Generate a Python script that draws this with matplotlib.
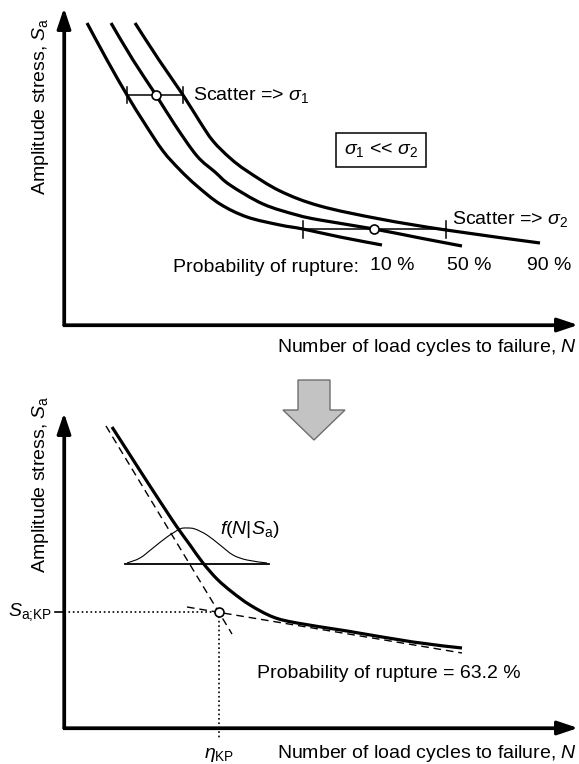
import matplotlib
matplotlib.use('Agg')
import matplotlib.pyplot as plt
from matplotlib.patches import FancyArrow, PathPatch
from matplotlib.path import Path

# Everything is placed on a canvas measured in pixels from the top-left corner
# (x to the right, y downwards).

# ---- upper diagram: S-N curves for three probabilities of rupture ----
curve_10_x = [87, 107, 127, 145, 163, 180, 197, 220, 247, 280, 303, 340, 382]
curve_10_y = [23, 60, 95, 124, 151, 170, 186, 204, 217, 225, 229, 237, 245]

curve_50_x = [111, 133, 156, 175, 197, 215, 230, 263, 297, 320, 374, 420, 462]
curve_50_y = [23, 60, 95, 125, 156, 172, 185, 204, 215, 220, 229, 238, 246]

curve_90_x = [135, 159, 183, 200, 213, 230, 247, 280, 320, 380, 446, 540]
curve_90_y = [23, 60, 95, 122, 141, 158, 171, 191, 206, 219, 230, 243]

# scatter bands (left end, median point, right end, level)
scatter1_x = [127, 156, 183]
scatter1_y = 95
scatter2_x = [303, 374, 446]
scatter2_y = 229

rupture_labels = ['10 %', '50 %', '90 %']
rupture_label_x = [370, 447, 527]

# ---- lower diagram: median curve with its two asymptotes ----
median_x = [112, 130, 148, 165, 177, 190, 203, 217, 232, 250, 273, 297, 347, 413, 462]
median_y = [427, 455, 483, 509, 527, 545, 563, 579, 592, 605, 617, 623, 631, 642, 648]

steep_asym_x = [106, 232]
steep_asym_y = [426, 634]
flat_asym_x = [187, 462]
flat_asym_y = [607, 653]

knee_x = 219
knee_y = 612

# density f(N|Sa) drawn over its baseline
density_x = [127, 140, 153, 167, 180, 187, 195, 207, 220, 233, 247, 267]
density_y = [563, 558, 548, 537, 529, 528, 529, 535, 545, 555, 560, 563]
density_base_x = [125, 269]
density_base_y = 564

plt.rcParams['font.family'] = 'Liberation Sans'
plt.rcParams['mathtext.fontset'] = 'custom'
plt.rcParams['mathtext.rm'] = 'Liberation Sans'
plt.rcParams['mathtext.it'] = 'Liberation Sans:italic'
plt.rcParams['mathtext.bf'] = 'Liberation Sans:bold'

fig = plt.figure(figsize=(5.79, 7.64), dpi=100)
ax = fig.add_axes([0, 0, 1, 1])
ax.set_xlim(0, 579)
ax.set_ylim(764, 0)
ax.axis('off')

fs = 14
thick = 2.3


def smooth_curve(xs, ys, lw, ls='-'):
    # pass a smooth bezier through the read points (Catmull-Rom)
    pts = list(zip(xs, ys))
    verts = [pts[0]]
    codes = [Path.MOVETO]
    for i in range(len(pts) - 1):
        p0 = pts[i - 1] if i > 0 else pts[i]
        p1 = pts[i]
        p2 = pts[i + 1]
        p3 = pts[i + 2] if i + 2 < len(pts) else pts[i + 1]
        c1 = (p1[0] + (p2[0] - p0[0]) / 6, p1[1] + (p2[1] - p0[1]) / 6)
        c2 = (p2[0] - (p3[0] - p1[0]) / 6, p2[1] - (p3[1] - p1[1]) / 6)
        verts += [c1, c2, p2]
        codes += [Path.CURVE4] * 3
    ax.add_patch(PathPatch(Path(verts, codes), fill=False, ec='black', lw=lw, ls=ls,
                           capstyle='butt', joinstyle='round'))


def axis_arrow(x0, y0, x1, y1):
    ax.annotate('', xy=(x1, y1), xytext=(x0, y0),
                arrowprops=dict(arrowstyle='-|>,head_length=1.25,head_width=0.42',
                                mutation_scale=10, lw=thick, color='black',
                                shrinkA=0, shrinkB=0))


# axes of both diagrams
for oy, top in [(325, 8), (728, 413)]:
    ax.plot([64, 64, 566], [top + 15, oy, oy], color='black', lw=thick,
            solid_joinstyle='miter', solid_capstyle='butt')
    axis_arrow(64, oy, 64, top)
    axis_arrow(64, oy, 578, oy)

# upper curves
for cx, cy in [(curve_10_x, curve_10_y), (curve_50_x, curve_50_y), (curve_90_x, curve_90_y)]:
    smooth_curve(cx, cy, thick)

# scatter bands
for sx, sy, tick in [(scatter1_x, scatter1_y, 8), (scatter2_x, scatter2_y, 8.5)]:
    ax.plot([sx[0], sx[2]], [sy, sy], color='black', lw=1.1)
    for tx in (sx[0], sx[2]):
        ax.plot([tx, tx], [sy - tick, sy + tick], color='black', lw=1.1)
    ax.plot(sx[1], sy, 'o', ms=6.5, mfc='white', mec='black', mew=1.2, zorder=5)

ax.text(193, 95, r'Scatter => $\sigma_1$', fontsize=fs, ha='left', va='center')
ax.text(452, 219, r'Scatter => $\sigma_2$', fontsize=fs, ha='left', va='center')
ax.text(381, 150, r'$\sigma_1$ << $\sigma_2$', fontsize=fs, ha='center', va='center',
        bbox=dict(boxstyle='square,pad=0.42', fc='white', ec='black', lw=1.1))
ax.text(173, 267, 'Probability of rupture:', fontsize=fs, ha='left', va='center')
for lab, lx in zip(rupture_labels, rupture_label_x):
    ax.text(lx, 266, lab, fontsize=fs, ha='left', va='center')

ax.text(577, 348, 'Number of load cycles to failure, $N$', fontsize=fs, ha='right', va='center')
ax.text(41, 195, r'Amplitude stress, $S_\mathrm{a}$', fontsize=fs, rotation=90,
        ha='center', va='bottom')

# big grey arrow between the diagrams
ax.add_patch(FancyArrow(314, 380, 0, 60, width=32, head_width=62, head_length=30,
                        length_includes_head=True, fc='#c3c3c3', ec='#6e6e6e', lw=1.0))

# lower diagram
smooth_curve(median_x, median_y, thick)
ax.plot(steep_asym_x, steep_asym_y, color='black', lw=1.0, dashes=(5.5, 3.5))
ax.plot(flat_asym_x, flat_asym_y, color='black', lw=1.0, dashes=(5.5, 3.5))

ax.plot([64, knee_x], [knee_y, knee_y], color='black', lw=1.2, ls=':')
ax.plot([knee_x, knee_x], [knee_y, 738], color='black', lw=1.2, ls=':')
ax.plot([55, 64], [knee_y, knee_y], color='black', lw=1.2)
ax.plot(knee_x, knee_y, 'o', ms=6.5, mfc='white', mec='black', mew=1.2, zorder=5)

ax.plot(density_base_x, [density_base_y, density_base_y], color='black', lw=1.3)
smooth_curve(density_x, density_y, 0.8)

ax.text(220, 530, r'$f(N|S_\mathrm{a})$', fontsize=fs, ha='left', va='center')
ax.text(257, 673, 'Probability of rupture = 63.2 %', fontsize=fs, ha='left', va='center')
ax.text(8, 612, r'$S_\mathrm{a;\!KP}$', fontsize=fs, ha='left', va='center')
ax.text(219, 755, r'$\eta_\mathrm{KP}$', fontsize=fs, ha='center', va='center')
ax.text(577, 753, 'Number of load cycles to failure, $N$', fontsize=fs, ha='right', va='center')
ax.text(41, 573, r'Amplitude stress, $S_\mathrm{a}$', fontsize=fs, rotation=90,
        ha='center', va='bottom')

fig.savefig('out.png', dpi=100)
